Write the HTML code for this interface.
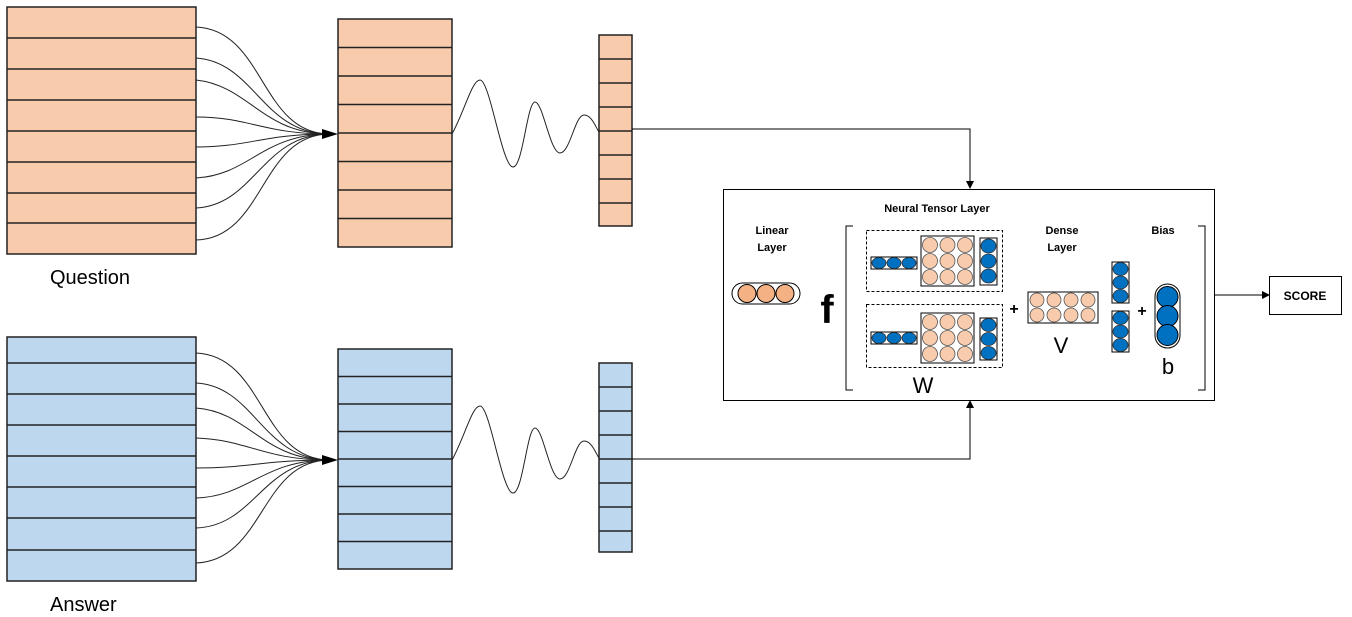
<!DOCTYPE html>
<html><head><meta charset="utf-8"><style>
html,body{margin:0;padding:0;background:#fff}
svg{display:block}
text{font-family:"Liberation Sans",sans-serif}
</style></head><body>
<svg width="1352" height="617" viewBox="0 0 1352 617" xmlns="http://www.w3.org/2000/svg">
<defs>
<marker id="ar" markerWidth="8" markerHeight="8" refX="7" refY="4" orient="auto" markerUnits="userSpaceOnUse">
<path d="M0,0 L8,4 L0,8 z" fill="#000"/></marker>
</defs>
<g stroke="#222" stroke-width="1.5" fill="#F8CBAD">
<rect x="7" y="7" width="189" height="247"/>
<rect x="338" y="19" width="114" height="228"/>
<rect x="599" y="35" width="33" height="191"/>
</g>
<g stroke="#222" stroke-width="1.5">
<path d="M7 38H196M7 69H196M7 100H196M7 131H196M7 162H196M7 193H196M7 223H196"/>
<path d="M338 47.5H452M338 76H452M338 104.5H452M338 133H452M338 161.5H452M338 190H452M338 218.5H452"/>
<path d="M599 59H632M599 83H632M599 107H632M599 131H632M599 155H632M599 179H632M599 203H632"/>
</g>
<g stroke="#222" stroke-width="1.5" fill="#BDD7EE">
<rect x="7" y="337" width="189" height="244"/>
<rect x="338" y="349" width="114" height="220"/>
<rect x="599" y="363" width="33" height="189"/>
</g>
<g stroke="#222" stroke-width="1.5">
<path d="M7 363H196M7 394H196M7 425H196M7 456H196M7 487H196M7 518H196M7 550H196"/>
<path d="M338 376.5H452M338 404H452M338 431.5H452M338 459H452M338 486.5H452M338 514H452M338 541.5H452"/>
<path d="M599 387H632M599 411H632M599 435H632M599 459H632M599 483H632M599 507H632M599 531H632"/>
</g>
<g fill="none" stroke="#222" stroke-width="1">
<path d="M196 27C265 30 260 134 330 134"/>
<path d="M196 58C255 62 262 134 330 134"/>
<path d="M196 80C250 86 262 134 330 134"/>
<path d="M196 117C250 117 262 134 330 134"/>
<path d="M196 147C250 147 262 134 330 134"/>
<path d="M196 178C250 175 262 134 330 134"/>
<path d="M196 208C255 205 262 134 330 134"/>
<path d="M196 240C265 238 260 134 330 134"/>
<path d="M196 353C265 356 260 460 330 460"/>
<path d="M196 383C255 386 262 460 330 460"/>
<path d="M196 408C250 412 262 460 330 460"/>
<path d="M196 438C250 440 262 460 330 460"/>
<path d="M196 468C250 468 262 460 330 460"/>
<path d="M196 498C250 496 262 460 330 460"/>
<path d="M196 528C255 526 262 460 330 460"/>
<path d="M196 563C265 560 260 460 330 460"/>
<path d="M452 134C465 110 472 80 480 80C490 80 502 167 513 167C523 167 527 102 535 102C543 102 550 153 560 153C570 153 575 115 584 115C592 115 596 128 599 132"/>
<path d="M452 460C465 436 472 406 480 406C490 406 502 493 513 493C523 493 527 428 535 428C543 428 550 479 560 479C570 479 575 441 584 441C592 441 596 454 599 458"/>
</g>
<path d="M322 129L338 134L322 139z" fill="#000"/>
<path d="M322 455L338 460L322 465z" fill="#000"/>
<text x="50" y="284" font-size="20" fill="#000" font-family="Liberation Sans,sans-serif">Question</text>
<text x="50" y="611" font-size="20" fill="#000">Answer</text>
<g fill="none" stroke="#000" stroke-width="1">
<path d="M632 129H970V188" marker-end="url(#ar)"/>
<path d="M632 459H970V401" marker-end="url(#ar)"/>
<path d="M1215 295H1269" marker-end="url(#ar)"/>
<rect x="723.5" y="189.5" width="491" height="211"/>
<rect x="1269.5" y="276.5" width="72" height="38"/>
<path d="M853 226H846V390H853"/>
<path d="M1198 226H1205V390H1198"/>
<rect x="866.5" y="230.5" width="136" height="61" stroke-dasharray="3,2"/>
<rect x="866.5" y="304.5" width="136" height="63" stroke-dasharray="3,2"/>
</g>
<text x="1305" y="300" font-size="12" font-weight="bold" text-anchor="middle">SCORE</text>
<g font-size="11" font-weight="bold" text-anchor="middle">
<text x="937" y="212">Neural Tensor Layer</text>
<text x="772" y="234">Linear</text><text x="772" y="251">Layer</text>
<text x="1062" y="234">Dense</text><text x="1062" y="251">Layer</text>
<text x="1163" y="234">Bias</text>
</g>
<text x="827" y="323" font-size="40" font-weight="bold" text-anchor="middle">f</text>
<text x="923" y="393" font-size="22" text-anchor="middle">W</text>
<text x="1061" y="353" font-size="22" text-anchor="middle">V</text>
<text x="1168" y="374" font-size="22" text-anchor="middle">b</text>
<g font-size="16" font-weight="bold" text-anchor="middle"><text x="1014" y="314">+</text><text x="1142" y="316">+</text></g>
<g stroke="#000" stroke-width="1">
<rect x="732" y="283" width="68" height="21" rx="10.5" fill="#fff"/>
<circle cx="747" cy="293.5" r="9" fill="#F4B183"/><circle cx="766" cy="293.5" r="9" fill="#F4B183"/><circle cx="785" cy="293.5" r="9" fill="#F4B183"/>
<rect x="1155" y="284" width="25" height="64" rx="12.5" fill="#fff"/>
<circle cx="1167.5" cy="297" r="10.5" fill="#0070C0"/><circle cx="1167.5" cy="316" r="10.5" fill="#0070C0"/><circle cx="1167.5" cy="335" r="10.5" fill="#0070C0"/>
</g>
<g stroke="#000" stroke-width="1" fill="#fff">
<rect x="871" y="257" width="46" height="12"/><rect x="921" y="236" width="53" height="50"/><rect x="980" y="238" width="17" height="47"/>
<rect x="871" y="332" width="46" height="12"/><rect x="921" y="313" width="53" height="50"/><rect x="980" y="318" width="17" height="42"/>
<rect x="1028" y="292" width="70" height="31"/>
<rect x="1112" y="262" width="17" height="41"/><rect x="1112" y="311" width="17" height="41"/>
</g>
<g stroke="#333" stroke-width="0.8" fill="#0070C0">
<ellipse cx="879" cy="263" rx="7" ry="5.5"/><ellipse cx="894" cy="263" rx="7" ry="5.5"/><ellipse cx="909" cy="263" rx="7" ry="5.5"/>
<ellipse cx="879" cy="338" rx="7" ry="5.5"/><ellipse cx="894" cy="338" rx="7" ry="5.5"/><ellipse cx="909" cy="338" rx="7" ry="5.5"/>
<ellipse cx="988.5" cy="246" rx="7.5" ry="7"/><ellipse cx="988.5" cy="261" rx="7.5" ry="7"/><ellipse cx="988.5" cy="276" rx="7.5" ry="7"/>
<ellipse cx="988.5" cy="325" rx="7.5" ry="6.5"/><ellipse cx="988.5" cy="339" rx="7.5" ry="6.5"/><ellipse cx="988.5" cy="353" rx="7.5" ry="6.5"/>
<ellipse cx="1120.5" cy="269" rx="7.5" ry="6.5"/><ellipse cx="1120.5" cy="282.5" rx="7.5" ry="6.5"/><ellipse cx="1120.5" cy="296" rx="7.5" ry="6.5"/>
<ellipse cx="1120.5" cy="318" rx="7.5" ry="6.5"/><ellipse cx="1120.5" cy="331.5" rx="7.5" ry="6.5"/><ellipse cx="1120.5" cy="345" rx="7.5" ry="6.5"/>
</g>
<g stroke="#555" stroke-width="0.8" fill="#F8CBAD">
<circle cx="930" cy="245" r="7.5"/><circle cx="947.5" cy="245" r="7.5"/><circle cx="965" cy="245" r="7.5"/>
<circle cx="930" cy="261" r="7.5"/><circle cx="947.5" cy="261" r="7.5"/><circle cx="965" cy="261" r="7.5"/>
<circle cx="930" cy="277" r="7.5"/><circle cx="947.5" cy="277" r="7.5"/><circle cx="965" cy="277" r="7.5"/>
<circle cx="930" cy="322" r="7.5"/><circle cx="947.5" cy="322" r="7.5"/><circle cx="965" cy="322" r="7.5"/>
<circle cx="930" cy="338" r="7.5"/><circle cx="947.5" cy="338" r="7.5"/><circle cx="965" cy="338" r="7.5"/>
<circle cx="930" cy="354" r="7.5"/><circle cx="947.5" cy="354" r="7.5"/><circle cx="965" cy="354" r="7.5"/>
<circle cx="1037" cy="300" r="7"/><circle cx="1054" cy="300" r="7"/><circle cx="1071" cy="300" r="7"/><circle cx="1088" cy="300" r="7"/>
<circle cx="1037" cy="315" r="7"/><circle cx="1054" cy="315" r="7"/><circle cx="1071" cy="315" r="7"/><circle cx="1088" cy="315" r="7"/>
</g>
</svg>
</body></html>
